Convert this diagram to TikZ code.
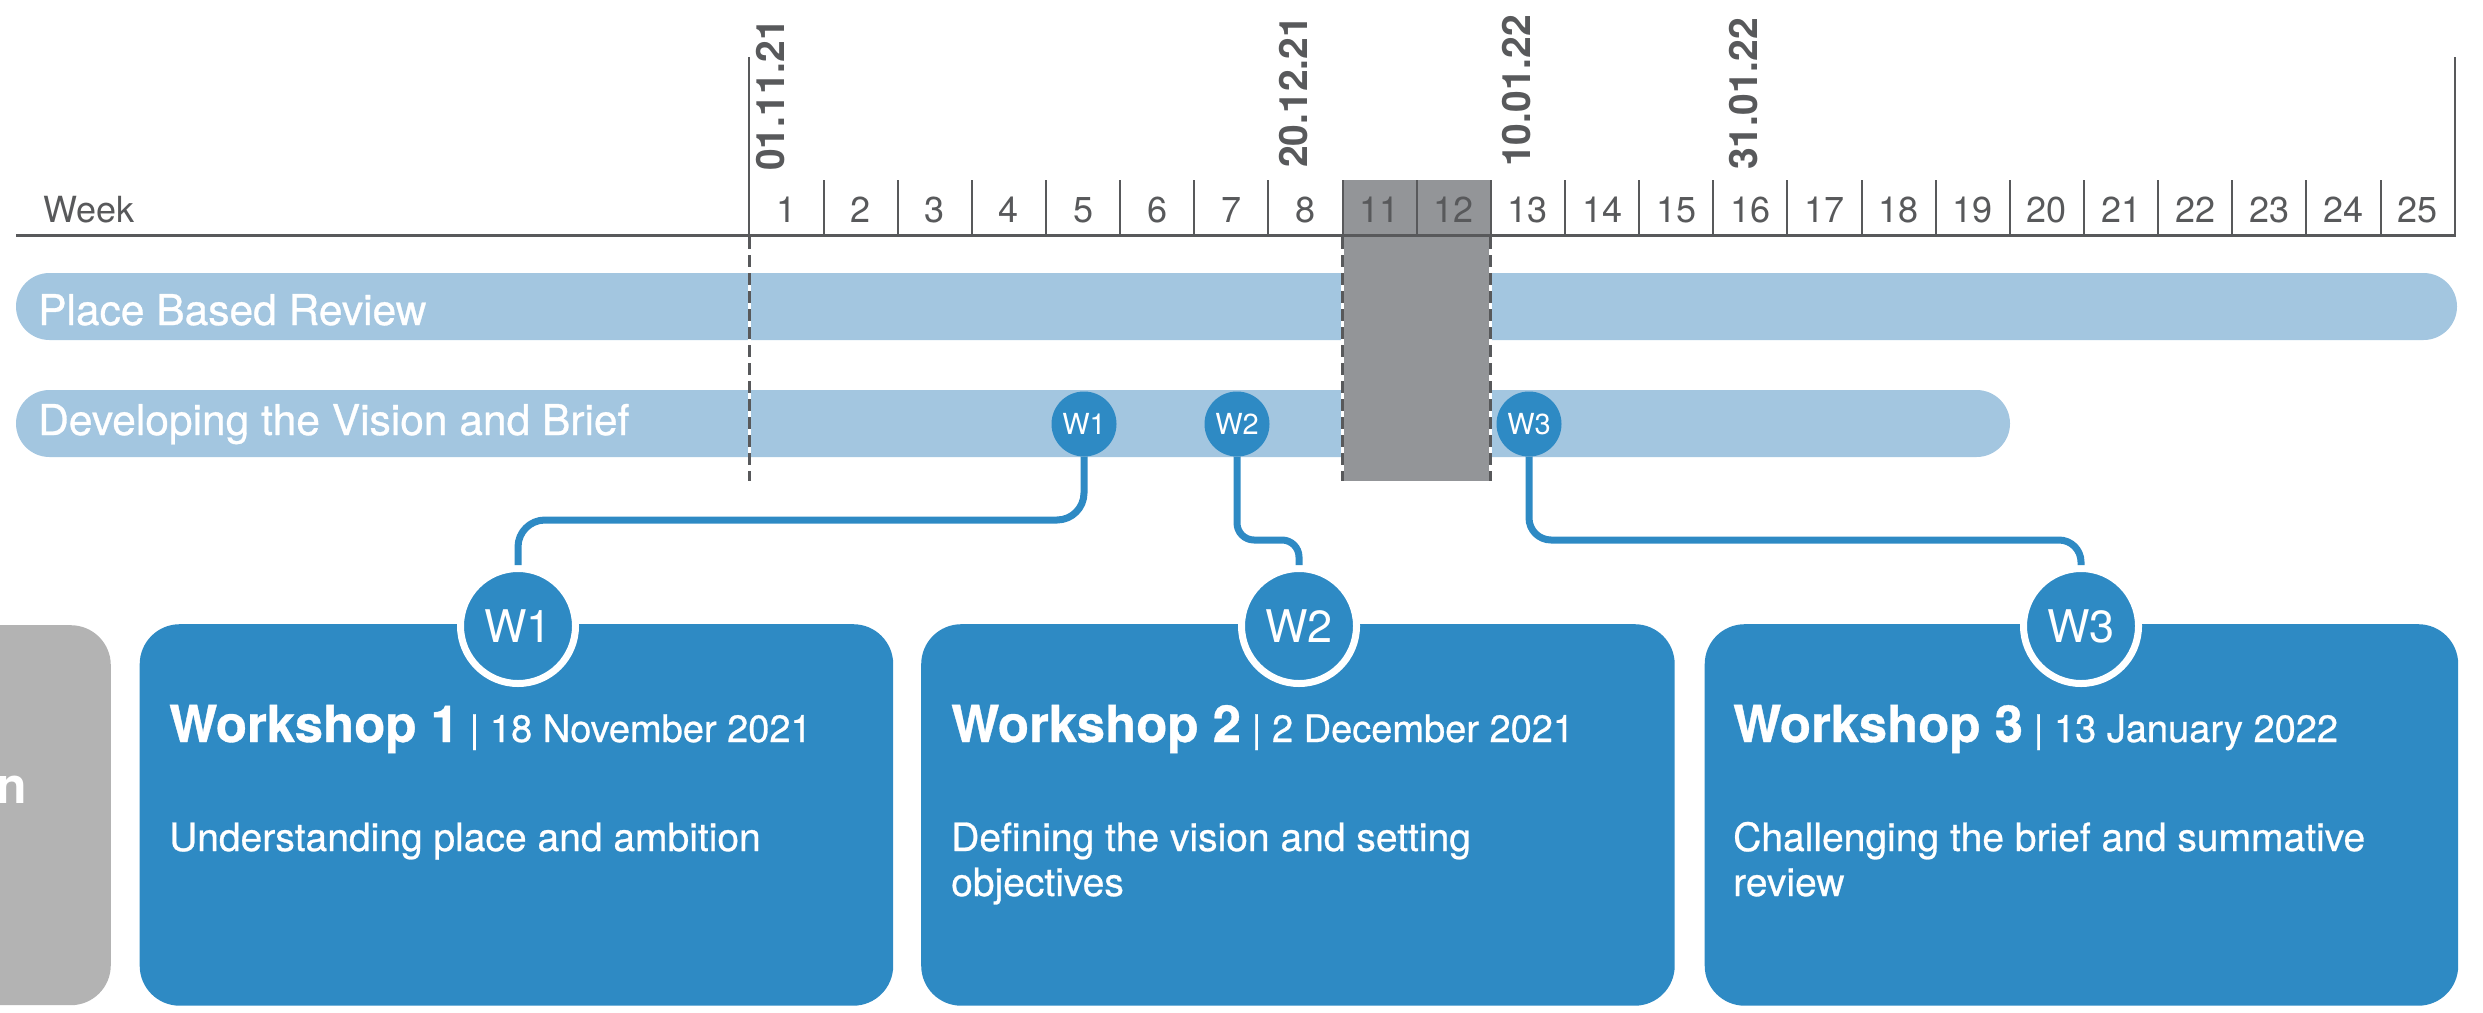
\documentclass[tikz,border=0pt]{standalone}
\usepackage{fontspec}
\setmainfont{TeX Gyre Heros}
\newfontfamily\medfont[FakeBold=0.7]{TeX Gyre Heros}
\definecolor{barblue}{HTML}{A3C6E0}
\definecolor{wblue}{HTML}{2E8AC4}
\definecolor{blockgrey}{HTML}{939598}
\definecolor{dgrey}{HTML}{58595B}
\definecolor{boxgrey}{HTML}{B3B3B3}
\begin{document}
\begin{tikzpicture}[x=1pt,y=-1pt,
  weeknum/.style={font=\fontsize{36}{42}\selectfont, text=dgrey, anchor=base, inner sep=0},
  datelbl/.style={font=\fontsize{39}{46}\selectfont\bfseries, text=dgrey, rotate=90, anchor=base west, inner sep=0},
  tickline/.style={draw=dgrey, line width=2},
  dashline/.style={draw=dgrey, line width=3, dash pattern=on 12pt off 6pt},
  whiteline/.style={draw=white, line width=3},
  bartext/.style={font=\medfont\fontsize{42.5}{50}\selectfont, text=white, anchor=base west, inner sep=0},
  smallc/.style={circle, fill=wblue, minimum size=65, inner sep=0, text=white, font=\fontsize{29}{33}\selectfont},
  bigc/.style={circle, fill=wblue, draw=white, line width=7, minimum size=115, inner sep=0, text=white, font=\fontsize{45}{50}\selectfont},
  conn/.style={draw=wblue, line width=7, rounded corners=24},
  wbox/.style={fill=wblue, rounded corners=40, anchor=north west, minimum width=753.5, minimum height=381.5, inner sep=0},
  titletext/.style={text=white, anchor=base west, inner sep=0, font=\medfont\fontsize{38}{45}\selectfont},
  desctext/.style={text=white, anchor=base west, inner sep=0, font=\medfont\fontsize{39}{46}\selectfont}
]
\useasboundingbox (0,0) rectangle (2483,1012);

% ---------- header ----------
\fill[blockgrey] (1342.5,180) rectangle (1490.8,481);
\node[weeknum, anchor=base west] (week) at (43,222) {Week};
\foreach \n [count=\i from 0] in {1,2,3,4,5,6,7,8,11,12,13,14,15,16,17,18,19,20,21,22,23,24,25}
  \node[weeknum] (wk\n) at ({749.4+(\i+0.5)*74.14},222) {\n};
\foreach \i in {1,...,22}
  \draw[tickline] ({749.4+\i*74.14},180) -- ({749.4+\i*74.14},236);
\draw[tickline] (749.4,57) -- (749.4,236);
\draw[tickline] (2454.6,57) -- (2454.6,236);
\draw[draw=dgrey, line width=3] (16,235.5) -- (2455.6,235.5);

\node[datelbl] (d1) at (784,171) {01.11.21};
\node[datelbl] (d2) at (1307,168) {20.12.21};
\node[datelbl] (d3) at (1530,167) {10.01.22};
\node[datelbl] (d4) at (1757,170) {31.01.22};

% ---------- bars ----------
\fill[barblue, rounded corners=33.5] (16,273) rectangle (2457,340);
\fill[barblue, rounded corners=33.5] (16,390) rectangle (2010,457);
\node[bartext] (pbr) at (38,325) {Place Based Review};
\node[bartext] (dvb) at (38,435) {Developing the Vision and Brief};

% ---------- holiday block ----------
\fill[blockgrey] (1342.5,237) rectangle (1490.8,481);
\draw[whiteline] (1342.5,237) -- (1342.5,481);
\draw[dashline] (1342.5,237) -- (1342.5,481);
\draw[whiteline] (1490.8,237) -- (1490.8,481);
\draw[dashline] (1490.8,237) -- (1490.8,481);
\draw[whiteline] (749.4,237) -- (749.4,481);
\draw[dashline] (749.4,237) -- (749.4,481);

% ---------- milestone circles ----------
\node[smallc] (sw1) at (1084,424) {W1};
\node[smallc] (sw2) at (1237,424) {W2};
\node[smallc] (sw3) at (1529,424) {W3};

% ---------- workshop boxes ----------
\node[fill=boxgrey, rounded corners=40, anchor=north east, minimum width=200, minimum height=380, inner sep=0] (gbox) at (111,625) {};
\node[text=white, anchor=base east, inner sep=0, font=\fontsize{50}{60}\selectfont\bfseries] (gtext) at (27,803) {n};

\node[wbox] (box1) at (139.5,624) {};
\node[wbox] (box2) at (921,624) {};
\node[wbox] (box3) at (1704.5,624) {};

\node[bigc] (bw1) at (518,626) {W1};
\node[bigc] (bw2) at (1299,626) {W2};
\node[bigc] (bw3) at (2081,626) {W3};

% ---------- connectors ----------
\draw[conn, rounded corners=27] (sw1.south) -- (sw1.south |- 0,520) -- (bw1.north |- 0,520) -- (bw1.north);
\draw[conn, rounded corners=17] (sw2.south) -- (sw2.south |- 0,540) -- (bw2.north |- 0,540) -- (bw2.north);
\draw[conn, rounded corners=22] (sw3.south) -- (sw3.south |- 0,540) -- (bw3.north |- 0,540) -- (bw3.north);

% ---------- texts ----------
\node[titletext] (t1) at (169,742) {{\fontsize{51}{60}\selectfont\bfseries Workshop 1} | 18 November 2021};
\node[titletext] (t2) at (951,742) {{\fontsize{51}{60}\selectfont\bfseries Workshop 2} | 2 December 2021};
\node[titletext] (t3) at (1733,742) {{\fontsize{51}{60}\selectfont\bfseries Workshop 3} | 13 January 2022};

\node[desctext] (s1) at (169,851) {Understanding place and ambition};
\node[desctext] (s2a) at (951,851) {Defining the vision and setting};
\node[desctext] (s2b) at (951,896) {objectives};
\node[desctext] (s3a) at (1733,851) {Challenging the brief and summative};
\node[desctext] (s3b) at (1733,896) {review};
\end{tikzpicture}
\end{document}
